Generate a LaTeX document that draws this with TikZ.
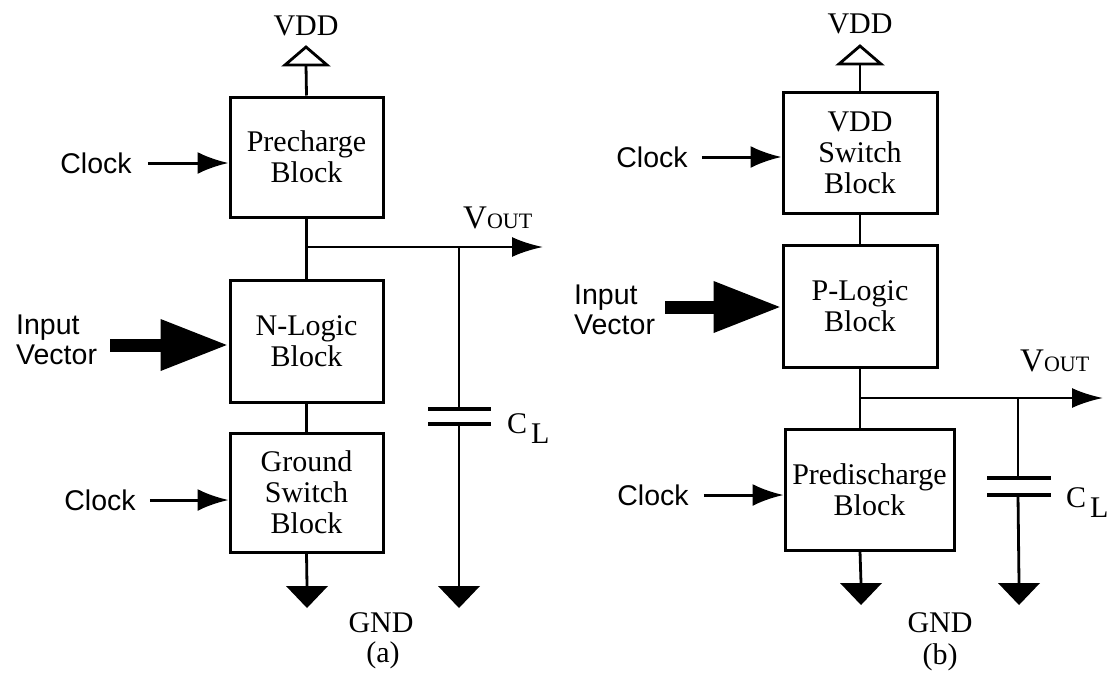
\documentclass[tikz,border=0pt]{standalone}
\usepackage{fontspec}
\setmainfont{Liberation Serif}
\newfontfamily\lblfont{Liberation Sans}
\usetikzlibrary{arrows.meta}
\tikzset{
  blk/.style={draw, line width=3pt, align=center, inner sep=0pt,
    font=\fontsize{30}{31}\selectfont},
  wire/.style={line width=2.8pt},
  clk/.style={line width=3pt, -{Latex[length=31pt,width=22pt]}},
  outarrow/.style={line width=2.8pt, -{Latex[length=31pt,width=20pt]}},
  fat/.style={line width=13pt, -{Triangle[length=68pt,width=48pt]}},
  plate/.style={line width=3.4pt},
  lbl/.style={font=\lblfont\fontsize{28.5}{30}\selectfont, inner sep=0pt},
  txt/.style={font=\fontsize{30}{30}\selectfont, inner sep=0pt},
  gndtri/.style={fill=black},
  vddtri/.style={line width=2.8pt, line join=miter}
}
\begin{document}
\begin{tikzpicture}[x=1pt,y=-1pt]
\useasboundingbox (0,0) rectangle (1113,675);

% ---------------- (a) ----------------
\node[blk, minimum width=153pt, minimum height=120pt] (pre) at (306.5,157) {Precharge\\Block};
\node[blk, minimum width=153pt, minimum height=122pt] (nlog) at (306.5,341) {N-Logic\\Block};
\node[blk, minimum width=153pt, minimum height=119pt] (gsw) at (306.5,492.5) {Ground\\Switch\\Block};

\node[txt] (vdda) at (306,26) {VDD};
\coordinate (vta) at (306,65);
\draw[vddtri] (vta) ++(-21,0) -- ++(21,-18) -- ++(21,18) -- cycle;
\draw[wire] (vta) -- (pre.north);

\node[lbl] (clka1) at (96,163) {Clock};
\draw[clk] ([xshift=16pt]clka1.east) -- (pre.west |- clka1);
\node[lbl] (clka2) at (100,500) {Clock};
\draw[clk] ([xshift=14pt]clka2.east) -- (gsw.west |- clka2);

\node[lbl, align=left, anchor=west] (iva) at (16,340) {Input\\Vector};
\coordinate (fa) at (110,345);
\draw[fat] (fa) -- (nlog.west |- fa);

\coordinate (ja) at (pre.south |- 0,247);
\coordinate (ca) at (459,247);
\coordinate (oa) at (543,247);
\draw[wire] (pre.south) -- (nlog.north);
\draw[wire] (nlog.south) -- (gsw.north);
\draw[outarrow] (ja) -- (oa);
\node[anchor=base west, inner sep=0pt] (vouta) at (463,228) {\fontsize{33}{33}\selectfont V\fontsize{22}{22}\selectfont OUT};

\coordinate (cpa1) at (459,409);
\coordinate (cpa2) at (459,424);
\draw[wire] (ca) -- (cpa1);
\draw[plate] (cpa1) ++(-31,0) -- ++(63,0);
\draw[plate] (cpa2) ++(-31,0) -- ++(63,0);
\node[anchor=base west, inner sep=0pt] (cla) at (507,433) {\fontsize{30}{30}\selectfont C\hspace{4pt}\raisebox{-10pt}{L}};

\coordinate (ga1) at (307,586);
\coordinate (ga2) at (459,586);
\draw[wire] (gsw.south) -- (ga1);
\draw[wire] (cpa2) -- (ga2);
\fill[gndtri] (ga1) ++(-21,0) -- ++(42,0) -- ++(-21,22) -- cycle;
\fill[gndtri] (ga2) ++(-21,0) -- ++(42,0) -- ++(-21,22) -- cycle;
\node[txt, anchor=base] (gnda) at (381,632) {GND};
\node[txt, anchor=base] (capa) at (383,662) {(a)};

% ---------------- (b) ----------------
\node[blk, minimum width=154pt, minimum height=121pt] (vsw) at (860,152.5) {VDD\\Switch\\Block};
\node[blk, minimum width=154pt, minimum height=122pt] (plog) at (860,306) {P-Logic\\Block};
\node[blk, minimum width=169pt, minimum height=121pt] (pdis) at (869.5,489.5) {Predischarge\\Block};

\node[txt] (vddb) at (860,24) {VDD};
\coordinate (vtb) at (860,64);
\draw[vddtri] (vtb) ++(-21,0) -- ++(21,-18) -- ++(21,18) -- cycle;
\draw[wire] (vtb) -- (vsw.north);

\node[lbl] (clkb1) at (652,157) {Clock};
\draw[clk] ([xshift=14pt]clkb1.east) -- (vsw.west |- clkb1);
\node[lbl] (clkb2) at (653,495) {Clock};
\draw[clk] ([xshift=15pt]clkb2.east) -- (pdis.west |- clkb2);

\node[lbl, align=left, anchor=west] (ivb) at (574,310) {Input\\Vector};
\coordinate (fb) at (665,307);
\draw[fat] (fb) -- (plog.west |- fb);

\draw[wire] (vsw.south) -- (plog.north);
\coordinate (jb) at (plog.south |- 0,398);
\coordinate (cb) at (1018,398);
\coordinate (ob) at (1103,398);
\draw[wire] (plog.south) -- (plog.south |- pdis.north);
\draw[outarrow] (jb) -- (ob);
\node[anchor=base west, inner sep=0pt] (voutb) at (1020,371) {\fontsize{33}{33}\selectfont V\fontsize{22}{22}\selectfont OUT};

\coordinate (cpb1) at (1018,478);
\coordinate (cpb2) at (1018,495);
\draw[wire] (cb) -- (cpb1);
\draw[plate] (cpb1) ++(-31,0) -- ++(64,0);
\draw[plate] (cpb2) ++(-31,0) -- ++(64,0);
\node[anchor=base west, inner sep=0pt] (clb) at (1066,507) {\fontsize{30}{30}\selectfont C\hspace{4pt}\raisebox{-10pt}{L}};

\coordinate (gb1) at (861,583);
\coordinate (gb2) at (1019,583);
\draw[wire] (plog.south |- pdis.south) -- (gb1);
\draw[wire] (cpb2) -- (gb2);
\fill[gndtri] (gb1) ++(-21,0) -- ++(42,0) -- ++(-21,22) -- cycle;
\fill[gndtri] (gb2) ++(-21,0) -- ++(42,0) -- ++(-21,22) -- cycle;
\node[txt, anchor=base] (gndb) at (940,632) {GND};
\node[txt, anchor=base] (capb) at (940,664) {(b)};
\end{tikzpicture}
\end{document}
